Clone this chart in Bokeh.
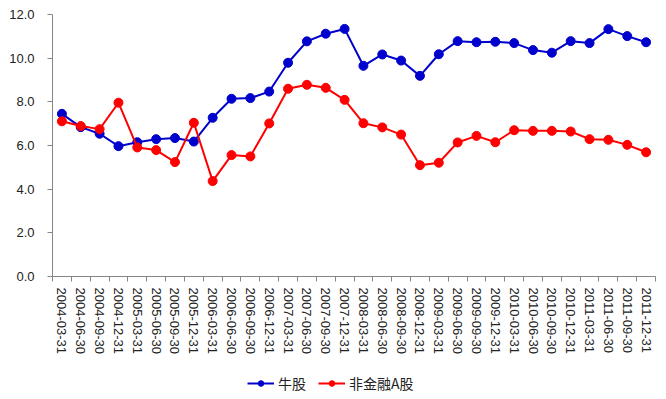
from bokeh.plotting import figure
from bokeh.layouts import column
from bokeh.models import (Range1d, LinearAxis, FixedTicker,
                          Legend, LegendItem, NumeralTickFormatter, ColumnDataSource)
from bokeh.embed import file_html
from bokeh.resources import INLINE
import math

dates = ["2004-03-31", "2004-06-30", "2004-09-30", "2004-12-31",
         "2005-03-31", "2005-06-30", "2005-09-30", "2005-12-31",
         "2006-03-31", "2006-06-30", "2006-09-30", "2006-12-31",
         "2007-03-31", "2007-06-30", "2007-09-30", "2007-12-31",
         "2008-03-31", "2008-06-30", "2008-09-30", "2008-12-31",
         "2009-03-31", "2009-06-30", "2009-09-30", "2009-12-31",
         "2010-03-31", "2010-06-30", "2010-09-30", "2010-12-31",
         "2011-03-31", "2011-06-30", "2011-09-30", "2011-12-31"]

bull = [7.45, 6.84, 6.54, 5.97, 6.15, 6.29, 6.34, 6.18,
        7.27, 8.14, 8.17, 8.47, 9.79, 10.77, 11.12, 11.34,
        9.65, 10.17, 9.89, 9.19, 10.18, 10.78, 10.73, 10.75,
        10.69, 10.37, 10.25, 10.78, 10.69, 11.33, 11.01, 10.73]

nonfin = [7.11, 6.89, 6.75, 7.96, 5.91, 5.79, 5.24, 7.04,
          4.37, 5.56, 5.50, 7.01, 8.60, 8.78, 8.64, 8.09,
          7.02, 6.83, 6.50, 5.10, 5.21, 6.14, 6.44, 6.15,
          6.70, 6.67, 6.67, 6.64, 6.29, 6.26, 6.03, 5.69]

y_ticks = [0, 2, 4, 6, 8, 10, 12]
series_names = ["牛股", "非金融A股"]
colors = ["#0000CC", "#FF0000"]

FONT = "Liberation Sans"
CJK = "Noto Sans CJK SC"
AXIS_COLOR = "#868686"
TEXT_COLOR = "#222222"

n = len(dates)
centers = [i + 0.5 for i in range(n)]
edges = list(range(n + 1))

p = figure(width=664, height=370, output_backend="svg", toolbar_location=None,
           x_range=Range1d(0, n), y_range=Range1d(0, 12), x_axis_type=None,
           min_border_left=52, min_border_right=9, min_border_top=14, min_border_bottom=94)
p.outline_line_color = None
p.xgrid.grid_line_color = None
p.ygrid.grid_line_color = None
p.background_fill_color = "white"

# y axis
yax = p.yaxis[0]
yax.ticker = FixedTicker(ticks=y_ticks)
yax.formatter = NumeralTickFormatter(format="0.0")
yax.axis_line_color = AXIS_COLOR
yax.major_tick_line_color = AXIS_COLOR
yax.major_tick_in = 0
yax.major_tick_out = 5
yax.minor_tick_line_color = None
yax.major_label_text_font = FONT
yax.major_label_text_font_size = "13px"
yax.major_label_text_color = TEXT_COLOR
yax.major_label_standoff = 13

# tick-mark axis at category boundaries
tick_axis = LinearAxis(ticker=FixedTicker(ticks=edges),
                       major_label_overrides={e: "" for e in edges},
                       major_label_standoff=0,
                       major_tick_in=0, major_tick_out=5,
                       axis_line_color=AXIS_COLOR, major_tick_line_color=AXIS_COLOR,
                       minor_tick_line_color=None)
p.add_layout(tick_axis, "below")

# label axis at category centres
lab_axis = LinearAxis(ticker=FixedTicker(ticks=centers),
                      major_label_overrides={c: d for c, d in zip(centers, dates)},
                      axis_line_color=None, major_tick_line_color=None, minor_tick_line_color=None,
                      major_tick_in=0, major_tick_out=0,
                      major_label_orientation=-math.pi / 2,
                      major_label_text_font=FONT, major_label_text_font_size="13px",
                      major_label_text_color=TEXT_COLOR,
                      major_label_standoff=6)
p.add_layout(lab_axis, "below")

src = ColumnDataSource(data=dict(x=centers, bull=bull, nonfin=nonfin))
for key, c in zip(["bull", "nonfin"], colors):
    p.line("x", key, source=src, line_color=c, line_width=2)
    p.scatter("x", key, source=src, size=9, fill_color=c, line_color=c)

# legend strip (its series sit outside its view range, only the legend shows)
lf = figure(width=664, height=24, output_backend="svg", toolbar_location=None,
            x_range=Range1d(0, n), y_range=Range1d(-2, -1),
            x_axis_type=None, y_axis_type=None,
            min_border_left=0, min_border_right=0, min_border_top=0, min_border_bottom=0)
lf.outline_line_color = None
lf.xgrid.grid_line_color = None
lf.ygrid.grid_line_color = None
items = []
for key, name, c in zip(["bull", "nonfin"], series_names, colors):
    l = lf.line("x", key, source=src, line_color=c, line_width=2)
    s = lf.scatter("x", key, source=src, size=8, fill_color=c, line_color=c)
    items.append(LegendItem(label=name, renderers=[l, s], index=0))
legend = Legend(items=items, orientation="horizontal", location=(195, 1),
                label_text_font=CJK, label_text_font_size="14px", label_text_color=TEXT_COLOR,
                glyph_width=27, glyph_height=14, spacing=12, padding=2, margin=0,
                border_line_color=None, background_fill_alpha=0, label_standoff=4)
lf.add_layout(legend, "center")

layout = column(p, lf, spacing=0)
open("out.html", "w").write(file_html(layout, INLINE))
